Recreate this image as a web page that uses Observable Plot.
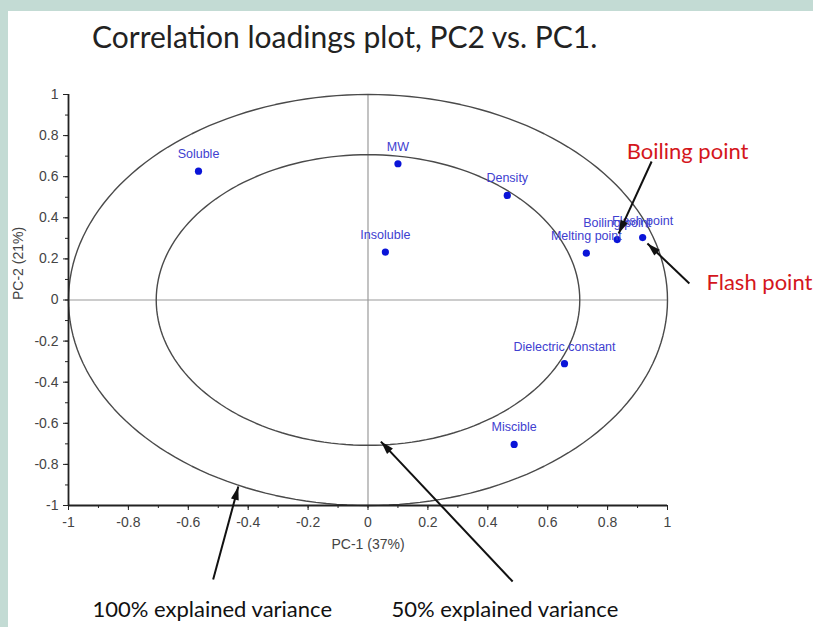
<!DOCTYPE html>
<html>
<head>
<meta charset="utf-8">
<script src="https://cdn.jsdelivr.net/npm/d3@7"></script>
<script src="https://cdn.jsdelivr.net/npm/@observablehq/plot@0.6"></script>
<style>
  html, body { margin: 0; padding: 0; background: #c3dbd4; }
  #page { position: absolute; left: 8px; top: 11px; width: 805px; height: 616px; background: #fff; overflow: hidden; }
  #title { height: 50px; box-sizing: border-box; padding: 7px 0 0 84px; font-family: Lato, "Open Sans", sans-serif; font-size: 30px; line-height: 36px; color: #222; }
  #chart svg { display: block; }
</style>
</head>
<body>
<div id="page">
  <div id="title">Correlation loadings plot, PC2 vs. PC1.</div>
  <div id="chart"></div>
</div>
<script>
// Correlation loadings of each variable on the first two principal components
const variables = ["Soluble", "MW", "Density", "Insoluble", "Melting point", "Boiling point", "Flash point", "Dielectric constant", "Miscible"];
const pc1 = [-0.566, 0.100, 0.465, 0.058, 0.729, 0.832, 0.917, 0.656, 0.488];
const pc2 = [0.627, 0.663, 0.509, 0.233, 0.228, 0.294, 0.304, -0.310, -0.703];

// Explained-variance levels shown as circles (radius = sqrt of the level)
const varianceLevels = [1, 0.5];

// Axis ticks
const majorTicks = [-1, -0.8, -0.6, -0.4, -0.2, 0, 0.2, 0.4, 0.6, 0.8, 1];
const minorTicks = [-1, -0.9, -0.8, -0.7, -0.6, -0.5, -0.4, -0.3, -0.2, -0.1, 0, 0.1, 0.2, 0.3, 0.4, 0.5, 0.6, 0.7, 0.8, 0.9, 1];

// Callouts: text placed in the margins, arrows pointing into the plot
const calloutText = ["Boiling point", "Flash point", "100% explained variance", "50% explained variance"];
const calloutColor = ["#d4161c", "#d4161c", "#111", "#111"];
const calloutX = [1.067, 1.307, -0.52, 0.457];
const calloutY = [0.718, 0.085, -1.506, -1.506];
const arrowX1 = [0.947, 1.073, -0.517, 0.483];
const arrowY1 = [0.674, 0.080, -1.360, -1.370];
const arrowX2 = [0.837, 0.933, -0.433, 0.043];
const arrowY2 = [0.324, 0.275, -0.908, -0.689];

// Layout
const W = 805, H = 566;
const M = {left: 60, right: 146, top: 33, bottom: 122};
const pxPerX = (W - M.left - M.right) / 2;
const pxPerY = (H - M.top - M.bottom) / 2;

const loadings = variables.map((name, i) => ({name, x: pc1[i], y: pc2[i]}));
const circles = varianceLevels.flatMap(level =>
  d3.range(0, 361, 2).map(a => ({
    level,
    x: Math.sqrt(level) * Math.cos(a * Math.PI / 180),
    y: Math.sqrt(level) * Math.sin(a * Math.PI / 180)
  })));
const callouts = calloutText.map((text, i) => ({
  text, color: calloutColor[i], x: calloutX[i], y: calloutY[i],
  x1: arrowX1[i], y1: arrowY1[i], x2: arrowX2[i], y2: arrowY2[i]
}));

// Solid, narrow arrowhead with its tip at the origin, pointing up
const arrowHead = {
  draw(context, size) {
    const l = Math.sqrt(size) * 1.5;
    context.moveTo(0, 0);
    context.lineTo(-l * 0.3, l);
    context.lineTo(l * 0.3, l);
    context.closePath();
  }
};
// screen-space heading of each arrow, clockwise from up
const heading = d => Math.atan2((d.x2 - d.x1) * pxPerX, (d.y2 - d.y1) * pxPerY) * 180 / Math.PI;

const fmt = d => String(Math.round(d * 10) / 10);
const sans = "'Liberation Sans', Arial, sans-serif";
const callFont = "Lato, 'Open Sans', sans-serif";

const chart = Plot.plot({
  width: W,
  height: H,
  marginLeft: M.left,
  marginRight: M.right,
  marginTop: M.top,
  marginBottom: M.bottom,
  x: {domain: [-1, 1]},
  y: {domain: [-1, 1]},
  style: {fontFamily: sans, background: "white", overflow: "visible"},
  marks: [
    Plot.ruleX([0], {y1: -1, y2: 1, stroke: "#9a9a9a", strokeWidth: 1.2}),
    Plot.ruleY([0], {x1: -1, x2: 1, stroke: "#9a9a9a", strokeWidth: 1.2}),
    Plot.line(circles, {x: "x", y: "y", z: "level", stroke: "#4a4a4a", strokeWidth: 1.4}),
    // axes: minor ticks, then labelled major ticks
    Plot.axisX({ticks: minorTicks, tickSize: 3, tickFormat: () => "", label: null, stroke: "#222"}),
    Plot.axisY({ticks: minorTicks, tickSize: 3, tickFormat: () => "", label: null, stroke: "#222"}),
    Plot.axisX({ticks: majorTicks, tickSize: 5, tickPadding: 7, tickFormat: fmt, label: null, stroke: "#222", fill: "#444", fontSize: 14}),
    Plot.axisY({ticks: majorTicks, tickSize: 5, tickPadding: 5, tickFormat: fmt, label: null, stroke: "#222", fill: "#444", fontSize: 14}),
    Plot.ruleX([-1], {y1: -1, y2: 1, stroke: "#222", strokeWidth: 1.8}),
    Plot.ruleY([-1], {x1: -1, x2: 1, stroke: "#222", strokeWidth: 1.8}),
    Plot.text(["PC-1 (37%)"], {x: 0, frameAnchor: "bottom", dy: 43, text: d => d, fill: "#444", fontSize: 14}),
    Plot.text(["PC-2 (21%)"], {y: 0, frameAnchor: "left", dx: -50, rotate: -90, text: d => d, fill: "#444", fontSize: 14}),
    // loadings
    Plot.dot(loadings, {x: "x", y: "y", r: 3.6, fill: "#0a14d8", stroke: "none"}),
    Plot.text(loadings, {x: "x", y: "y", text: "name", dy: -17, fill: "#4040d0", fontSize: 12.5}),
    // callouts
    Plot.link(callouts, {x1: "x1", y1: "y1", x2: "x2", y2: "y2", stroke: "#111", strokeWidth: 2}),
    Plot.dot(callouts, {x: "x2", y: "y2", symbol: arrowHead, r: 5, rotate: heading, fill: "#111", stroke: "none"}),
    Plot.text(callouts, {x: "x", y: "y", text: "text", fill: "color", fontSize: 22, fontFamily: callFont})
  ]
});
document.getElementById("chart").append(chart);
</script>
</body>
</html>
